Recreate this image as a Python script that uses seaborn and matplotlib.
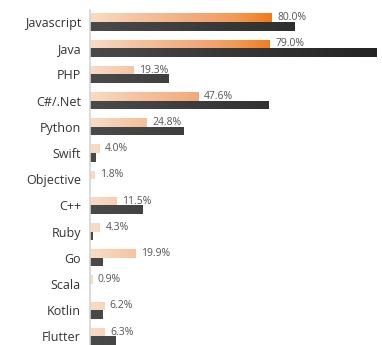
import numpy as np
import pandas as pd
import matplotlib
matplotlib.use("Agg")
import matplotlib.pyplot as plt
from matplotlib.colors import LinearSegmentedColormap
import seaborn as sns

# Languages, top to bottom
languages = ["Javascript", "Java", "PHP", "C#/.Net", "Python", "Swift", "Objective",
             "C++", "Ruby", "Go", "Scala", "Kotlin", "Flutter"]
# Labelled series (percent)
usage = [80.0, 79.0, 19.3, 47.6, 24.8, 4.0, 1.8, 11.5, 4.3, 19.9, 0.9, 6.2, 6.3]
# Unlabelled companion series, same scale
demand = [90.0, 126.0, 34.7, 78.3, 41.0, 2.2, 0.0, 22.9, 1.0, 5.3, 0.0, 5.3, 11.4]

series_names = ["usage", "demand"]

df = pd.DataFrame({
    "language": languages * 2,
    "series": [series_names[0]] * len(languages) + [series_names[1]] * len(languages),
    "value": usage + demand,
})

sns.set_style("white")
plt.rcParams["font.family"] = ["Open Sans", "DejaVu Sans"]

fig = plt.figure(figsize=(3.82, 3.45), dpi=100)
ax = fig.add_axes([90 / 382, 0, 292 / 382, 1])

sns.barplot(data=df, y="language", x="value", hue="series", orient="h",
            order=languages, hue_order=series_names,
            palette=["#f4bd98", "#333333"], saturation=1, width=0.66,
            legend=False, ax=ax)

XMAX = 128.4
orange_cmap = LinearSegmentedColormap.from_list(
    "peach", [(0.0, "#f8dcc8"), (0.25, "#f5c4a0"), (0.6, "#f3a878"),
              (0.8, "#f39a55"), (1.0, "#f07a1a")])
dark_cmap = LinearSegmentedColormap.from_list(
    "graphite", [(0.0, "#4a4a4a"), (1.0, "#232323")])
grad = np.linspace(0, 1, 256).reshape(1, -1)

# Fill each bar with a horizontal gradient clipped to the bar shape
for container, cmap, span in [(ax.containers[0], orange_cmap, 80.0),
                              (ax.containers[1], dark_cmap, XMAX)]:
    for patch in container:
        y0, h = patch.get_y(), patch.get_height()
        im = ax.imshow(grad, extent=(0, span, y0 + h, y0), aspect="auto",
                       cmap=cmap, interpolation="bicubic", zorder=patch.get_zorder())
        im.set_clip_path(patch)
        patch.set_edgecolor("none")

ax.bar_label(ax.containers[0], labels=[f"{v:.1f}%" for v in usage],
             padding=4, fontsize=7.5, color="#555555")

ax.set_xlim(0, XMAX)
ax.set_ylim(12.33, -0.84)
ax.set_xlabel("")
ax.set_ylabel("")
ax.xaxis.set_visible(False)
ax.tick_params(axis="y", length=0, pad=6.5, labelsize=9, labelcolor="#333333")

for side in ["top", "right", "bottom"]:
    ax.spines[side].set_visible(False)
ax.spines["left"].set_color("#d4d4d4")
ax.spines["left"].set_linewidth(1.2)
ax.spines["left"].set_bounds(12.33, -0.46)

fig.savefig("out.png", dpi=100, facecolor="white")
